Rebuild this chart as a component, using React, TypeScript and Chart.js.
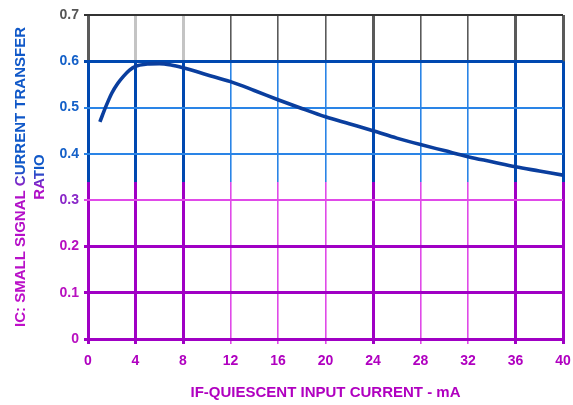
import React, { useEffect, useRef } from 'react';
import { Chart, registerables } from 'chart.js';

Chart.register(...registerables);

// Quiescent input current IF (mA)
const currentMA = [1, 1.5, 2, 2.5, 3, 3.5, 4, 5, 6, 7, 8, 10, 12, 14, 16, 18, 20, 22, 24, 26, 28, 30, 32, 34, 36, 38, 40];
// Small signal current transfer ratio
const transferRatio = [0.469, 0.502, 0.531, 0.552, 0.568, 0.581, 0.589, 0.594, 0.595, 0.592, 0.586, 0.571, 0.556, 0.537, 0.517, 0.498, 0.48, 0.465, 0.45, 0.434, 0.42, 0.407, 0.394, 0.383, 0.372, 0.363, 0.354];

const xTickValues = [0, 4, 8, 12, 16, 20, 24, 28, 32, 36, 40];
const yTickValues = [0, 0.1, 0.2, 0.3, 0.4, 0.5, 0.6, 0.7];

const xTitle = 'IF-QUIESCENT INPUT CURRENT - mA';
const yTitle = ['IC: SMALL SIGNAL CURRENT TRANSFER', 'RATIO'];

const GREY_DARK = '#5a5a5a';
const GREY_LIGHT = '#c4c4c4';
const BLUE_THICK = '#0048b0';
const BLUE_THIN = '#2a84e6';
const MAG_THICK = '#a000c4';
const MAG_THIN = '#e04ae8';
const CURVE = '#0a3e9e';
const FONT = "'Liberation Sans', Arial, sans-serif";

const thickX = new Set([0, 4, 8, 24, 36, 40]);
const lightTopX = new Set([4, 8]);

function vGrad(chart: any, xv: number) {
  const thick = thickX.has(xv);
  const { ctx, chartArea, scales } = chart;
  if (!chartArea || !scales || !scales.y) return thick ? BLUE_THICK : BLUE_THIN;
  const top = chartArea.top;
  const bottom = chartArea.bottom;
  const h = bottom - top;
  const f1 = (scales.y.getPixelForValue(0.6) - top) / h;
  const f2 = (scales.y.getPixelForValue(0.34) - top) / h;
  const g = ctx.createLinearGradient(0, top, 0, bottom);
  const grey = lightTopX.has(xv) ? GREY_LIGHT : GREY_DARK;
  g.addColorStop(0, grey);
  g.addColorStop(f1, grey);
  g.addColorStop(Math.min(1, f1 + 0.001), thick ? BLUE_THICK : BLUE_THIN);
  g.addColorStop(f2, thick ? BLUE_THICK : BLUE_THIN);
  g.addColorStop(Math.min(1, f2 + 0.001), thick ? MAG_THICK : MAG_THIN);
  g.addColorStop(1, thick ? MAG_THICK : MAG_THIN);
  return g;
}

function hColor(v: number) {
  const r = Math.round(v * 10);
  if (r === 7) return '#333333';
  if (r === 6) return BLUE_THICK;
  if (r >= 4) return BLUE_THIN;
  if (r === 3) return MAG_THIN;
  return MAG_THICK;
}
function hWidth(v: number) {
  const r = Math.round(v * 10);
  if (r === 6 || r <= 2) return 3;
  return 2;
}
function yLabelColor(v: number) {
  const r = Math.round(v * 10);
  if (r === 7) return '#555555';
  if (r >= 4) return '#1460c8';
  if (r === 3) return '#8a28c8';
  return '#b810c0';
}

export default function App() {
  const ref = useRef<HTMLCanvasElement | null>(null);

  useEffect(() => {
    const canvas = ref.current;
    if (!canvas) return;
    const c2d = canvas.getContext('2d') as CanvasRenderingContext2D;
    // gradient in the rotated title space (u = titleY - canvasY)
    const tg = c2d.createLinearGradient(-160, 0, 160, 0);
    tg.addColorStop(0, '#c010c8');
    tg.addColorStop(0.46, '#b010c8');
    tg.addColorStop(0.52, '#1058c8');
    tg.addColorStop(1, '#1058c8');

    const chart = new Chart(canvas, {
      type: 'line',
      data: {
        datasets: [
          {
            data: currentMA.map((x, i) => ({ x, y: transferRatio[i] })),
            borderColor: CURVE,
            borderWidth: 3.6,
            pointRadius: 0,
            fill: false,
            cubicInterpolationMode: 'monotone',
          },
        ],
      },
      options: {
        animation: false,
        responsive: true,
        maintainAspectRatio: false,
        layout: { padding: { left: 0, top: 15, right: 10, bottom: 0 } },
        plugins: { legend: { display: false }, tooltip: { enabled: false } },
        scales: {
          x: {
            type: 'linear',
            min: 0,
            max: 40,
            afterBuildTicks: (s: any) => {
              s.ticks = xTickValues.map((v) => ({ value: v }));
            },
            afterFit: (s: any) => {
              s.height = 66;
              s.paddingRight = 0;
              s.paddingLeft = 0;
            },
            border: { display: false },
            grid: {
              color: (ctx: any) => vGrad(ctx.chart, ctx.tick ? ctx.tick.value : 0),
              lineWidth: (ctx: any) => (ctx.tick && thickX.has(ctx.tick.value) ? 3 : 1.6),
              tickLength: 5,
            },
            ticks: {
              color: '#b000c0',
              font: { family: FONT, size: 14, weight: 'bold' },
              padding: 9,
              maxRotation: 0,
              autoSkip: false,
              callback: (v: any) => String(v),
            },
            title: {
              display: true,
              text: xTitle,
              color: '#b000c0',
              font: { family: FONT, size: 15, weight: 'bold' },
              padding: { top: 0, bottom: 3 },
            },
          },
          y: {
            type: 'linear',
            min: 0,
            max: 0.7,
            afterBuildTicks: (s: any) => {
              s.ticks = yTickValues.map((v) => ({ value: v }));
            },
            afterFit: (s: any) => {
              s.width = 88;
            },
            border: { display: false },
            grid: {
              color: (ctx: any) => hColor(ctx.tick ? ctx.tick.value : 0),
              lineWidth: (ctx: any) => hWidth(ctx.tick ? ctx.tick.value : 0),
              tickLength: 4,
            },
            ticks: {
              color: (ctx: any) => yLabelColor(ctx.tick ? ctx.tick.value : 0),
              font: { family: FONT, size: 14, weight: 'bold' },
              padding: 5,
              autoSkip: false,
              callback: (v: any) => (v === 0 ? '0' : Number(v).toFixed(1)),
            },
            title: {
              display: true,
              text: yTitle,
              color: tg as any,
              font: { family: FONT, size: 15, weight: 'bold', lineHeight: 1.27 },
              padding: { top: 11, bottom: 0 },
            },
          },
        },
      },
    } as any);
    return () => chart.destroy();
  }, []);

  return (
    <div style={{ position: 'fixed', left: 0, top: 0, width: 573, height: 405, background: '#ffffff' }}>
      <canvas ref={ref} />
    </div>
  );
}
